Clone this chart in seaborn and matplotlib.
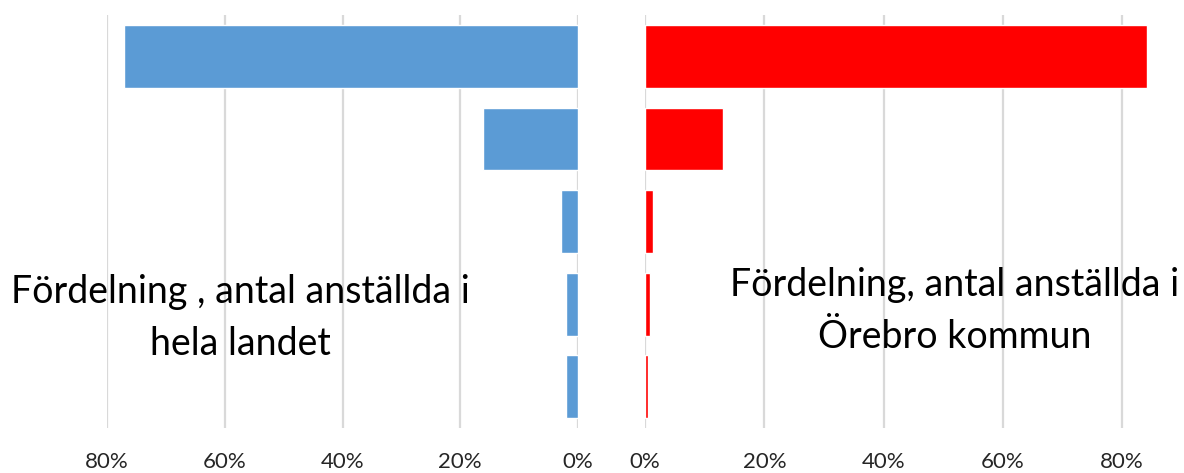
import numpy as np
import pandas as pd
import seaborn as sns
import matplotlib.pyplot as plt
from matplotlib.ticker import PercentFormatter

# size classes (not labelled in the chart)
klasser = ['0', '1-9', '10-49', '50-249', '250+']
hela_landet = [0.771, 0.161, 0.029, 0.020, 0.020]
orebro = [0.842, 0.131, 0.014, 0.0085, 0.005]
ticks = [0.0, 0.2, 0.4, 0.6, 0.8]

sns.set_theme(style='white')
plt.rcParams['font.family'] = ['Lato', 'DejaVu Sans']

fig = plt.figure(figsize=(11.84, 4.73), dpi=100)
ax_l = fig.add_axes([0.0904, 0.0951, 0.3978, 0.873])
ax_r = fig.add_axes([0.5448, 0.0951, 0.4527, 0.873])

df_l = pd.DataFrame({'klass': klasser, 'andel': hela_landet})
df_r = pd.DataFrame({'klass': klasser, 'andel': orebro})

sns.barplot(data=df_l, x='andel', y='klass', orient='h', color='#5B9BD5',
            saturation=1, width=0.76, ax=ax_l)
sns.barplot(data=df_r, x='andel', y='klass', orient='h', color='#FF0000',
            saturation=1, width=0.76, ax=ax_r)

ax_l.set_xlim(0.8, 0)
ax_r.set_xlim(0, 0.84 * 1.07)

for ax in (ax_l, ax_r):
    ax.set_xticks(ticks)
    ax.xaxis.set_major_formatter(PercentFormatter(1.0, decimals=0))
    ax.grid(axis='x', color='#d9d9d9', linewidth=1.6)
    ax.set_axisbelow(True)
    ax.set_yticks([])
    ax.set_xlabel('')
    ax.set_ylabel('')
    ax.set_ylim(4.5, -0.5)
    for s in ax.spines.values():
        s.set_visible(False)
    ax.tick_params(axis='x', length=0, pad=17, labelsize=16, labelcolor='#262626')

fig.text(240 / 1184, 1 - 318 / 473, 'Fördelning , antal anställda i\nhela landet',
         ha='center', va='center', fontsize=27, color='black', linespacing=1.56)
fig.text(955 / 1184, 1 - 311 / 473, 'Fördelning, antal anställda i\nÖrebro kommun',
         ha='center', va='center', fontsize=27, color='black', linespacing=1.56)

fig.savefig('out.png', dpi=100)
